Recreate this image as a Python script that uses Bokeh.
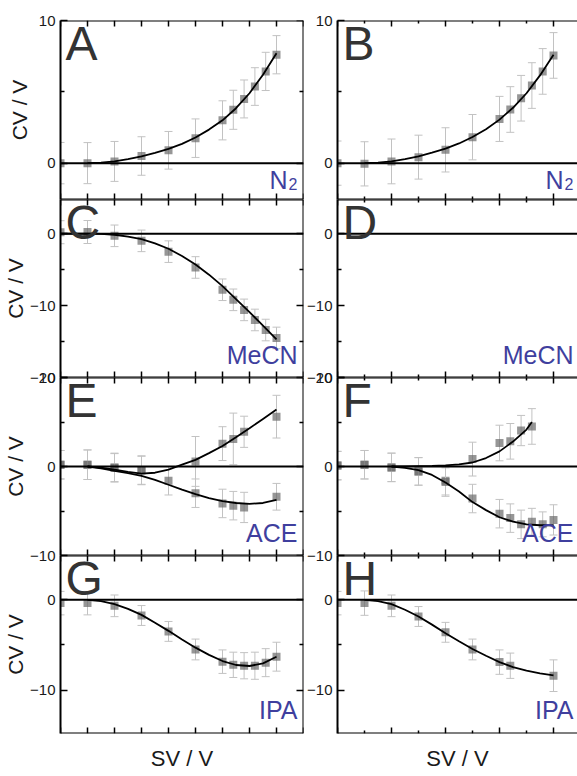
from bokeh.plotting import figure
from bokeh.models import (ColumnDataSource, Range1d, LinearAxis, FixedTicker,
                          Span, Label)
from bokeh.layouts import row, column
from bokeh.embed import file_html
from bokeh.resources import INLINE

# ---------------------------------------------------------------- data
# separation voltage steps (same for every gas)
sv = [0, 1, 2, 3, 4, 5, 6, 6.4, 6.8, 7.2, 7.6, 8]
fit_sv = [1, 1.5, 2, 2.5, 3, 3.5, 4, 4.5, 5, 5.5, 6, 6.5, 7, 7.5, 8]

# A: N2, left
cv_a = [0.0, 0.0, 0.12, 0.5, 0.9, 1.75, 3.0, 3.74, 4.5, 5.37, 6.43, 7.6]
err_a = [1.45, 1.44, 1.4, 1.35, 1.32, 1.35, 1.37, 1.37, 1.33, 1.32, 1.34, 1.34]
fit_a = [0, 0.04, 0.13, 0.28, 0.48, 0.72, 1.0, 1.35, 1.8, 2.35, 3.0, 3.85, 4.9, 6.2, 7.7]

# B: N2, right
cv_b = [0.0, -0.05, 0.12, 0.42, 0.93, 1.82, 3.1, 3.76, 4.55, 5.44, 6.43, 7.55]
err_b = [1.55, 1.55, 1.57, 1.54, 1.55, 1.59, 1.58, 1.6, 1.6, 1.6, 1.6, 1.6]
fit_b = [0, 0.04, 0.13, 0.28, 0.48, 0.73, 1.02, 1.38, 1.83, 2.38, 3.05, 3.88, 4.9, 6.15, 7.6]

# C: MeCN, left
cv_c = [0.2, 0.23, -0.3, -1.0, -2.5, -4.7, -7.8, -9.2, -10.6, -12.0, -13.4, -14.5]
err_c = [1.6, 1.6, 1.5, 1.5, 1.5, 1.5, 1.5, 1.5, 1.5, 1.5, 1.5, 1.5]
fit_c_sv = [0, 0.5, 1, 1.5, 2, 2.5, 3, 3.5, 4, 4.5, 5, 5.5, 6, 6.5, 7, 7.5, 8]
fit_c = [0, 0, 0, -0.03, -0.15, -0.4, -0.75, -1.35, -2.1, -3.1, -4.3, -5.7,
         -7.3, -9.1, -10.9, -12.8, -14.7]

# E: ACE, left (two branches)
sv_e_up = [0, 1, 2, 3, 5, 6, 6.4, 6.8, 8]
cv_e_up = [0.2, 0.2, -0.1, -0.4, 0.57, 2.57, 3.1, 3.9, 5.6]
err_e_up = [1.6, 1.66, 1.6, 1.6, 2.8, 1.9, 2.9, 1.75, 2.4]
fit_e_up = [0, -0.12, -0.35, -0.6, -0.8, -0.7, -0.35, 0.2, 0.75, 1.5, 2.3,
            3.3, 4.3, 5.35, 6.4]
sv_e_lo = [0, 1, 2, 3, 4, 5, 6, 6.4, 6.8, 8]
cv_e_lo = [0.2, 0.2, -0.15, -0.45, -1.6, -3.0, -4.15, -4.4, -4.6, -3.4]
err_e_lo = [1.6, 1.66, 1.6, 1.6, 1.6, 1.6, 1.6, 1.6, 1.7, 1.5]
fit_e_lo = [0, -0.2, -0.5, -0.75, -1.05, -1.5, -2.05, -2.6, -3.1, -3.55,
            -3.9, -4.1, -4.2, -4.1, -3.75]

# F: ACE, right (two branches)
sv_f_up = [0, 1, 2, 3, 4, 5, 6, 6.4, 6.8, 7.2]
cv_f_up = [0.1, 0.2, -0.1, -0.55, -1.6, 0.83, 2.64, 2.83, 4.04, 4.5]
err_f_up = [1.6, 1.6, 1.6, 1.55, 1.6, 1.9, 2.0, 2.0, 1.7, 2.0]
fit_f_up_sv = [2, 2.5, 3, 3.5, 4, 4.5, 5, 5.5, 6, 6.5, 7, 7.2]
fit_f_up = [0, 0.02, 0.05, 0.08, 0.12, 0.25, 0.45, 0.95, 1.7, 2.8, 4.15, 5.0]
sv_f_lo = [0, 1, 2, 3, 4, 5, 6, 6.4, 6.8, 7.2, 7.6, 8]
cv_f_lo = [0.1, 0.2, -0.1, -0.55, -1.75, -3.6, -5.3, -5.8, -6.5, -6.2, -6.5, -6.0]
err_f_lo = [1.6, 1.6, 1.6, 1.55, 1.6, 1.6, 1.6, 1.6, 1.6, 1.5, 1.4, 1.7]
fit_f_lo_sv = [2, 2.5, 3, 3.5, 4, 4.5, 5, 5.5, 6, 6.5, 7, 7.5, 8]
fit_f_lo = [0, -0.15, -0.4, -0.95, -1.8, -2.8, -4.0, -4.9, -5.7, -6.2, -6.5,
            -6.6, -6.6]

# G: IPA, left
cv_g = [-0.37, -0.37, -0.67, -1.74, -3.5, -5.5, -6.85, -7.2, -7.3, -7.3, -6.96, -6.3]
err_g = [1.3, 1.3, 1.2, 1.1, 1.1, 1.15, 1.3, 1.4, 1.45, 1.5, 1.55, 1.6]
fit_g = [0, -0.15, -0.48, -1.0, -1.67, -2.55, -3.44, -4.4, -5.3, -6.1, -6.78,
         -7.22, -7.33, -7.04, -6.3]

# H: IPA, right
sv_h = [0, 1, 2, 3, 4, 5, 6, 6.4, 8]
cv_h = [-0.37, -0.37, -0.67, -1.85, -3.6, -5.5, -6.9, -7.3, -8.4]
err_h = [1.3, 1.35, 1.2, 1.1, 1.1, 1.15, 1.35, 1.4, 1.75]
fit_h = [0, -0.15, -0.48, -1.1, -1.85, -2.75, -3.7, -4.6, -5.44, -6.2, -6.9,
         -7.45, -7.85, -8.15, -8.37]

# ---------------------------------------------------------------- style
FONT = "Liberation Sans"
ERR_COLOR = "#c2c2c2"
SQ_COLOR = "#6a6a6a"
GAS_COLOR = "#3f3f9e"
LETTER_COLOR = "#333333"
TICK_COLOR = "#1a1a1a"

LEFT_W, RIGHT_W = 243, 240
PX_PER_SV = 27.0
ROW_H = [179, 178, 178, 178]
Y_RANGES = [(-2.55, 10), (-20, 4.75), (-10, 10), (-14.8, 4.9)]
Y_MAJOR = [[0, 10], [-20, -10, 0], [-10, 0, 10], [-10, 0]]
Y_MINOR = [[5], [-15, -5], [-5, 5], [-5]]
# distance of the "CV / V" title from the tick labels, so it lines up in every row
CV_STANDOFF = [5, 0, 0, 0]
GAS = ["N2", "MeCN", "ACE", "IPA"]
GAS_BASE = [9, 12, 12, 13]
# alphabetic text sits ~0.41 em low in the svg output; lift it by that much
BASE_LIFT = 0.41


def make_panel(r, c, letter):
    left = c == 0
    fw = LEFT_W if left else RIGHT_W
    fh = ROW_H[r]
    xr = (0, fw / PX_PER_SV)
    yr = Y_RANGES[r]
    top_b = 20 if r == 0 else 10
    bot_b = 43 if r == 3 else 10
    p = figure(frame_width=fw, frame_height=fh,
               x_range=Range1d(*xr), y_range=Range1d(*yr),
               x_axis_type=None, y_axis_type=None,
               toolbar_location=None, output_backend="svg",
               min_border_left=60 if left else 33,
               min_border_right=1 if left else 0,
               min_border_top=top_b, min_border_bottom=bot_b,
               background_fill_color=None, border_fill_color=None,
               outline_line_color=None)
    if r > 0:
        p.margin = (-20, 0, 0, 0)

    tick_kw = dict(axis_line_color="black", axis_line_width=2,
                   major_tick_line_color="black", minor_tick_line_color="black",
                   major_tick_line_width=1.5, minor_tick_line_width=1.5,
                   major_tick_out=0, minor_tick_out=0,
                   major_tick_in=7, minor_tick_in=4)

    # y axes: labelled on the left, bare on the right
    yl = LinearAxis(ticker=FixedTicker(ticks=Y_MAJOR[r], minor_ticks=Y_MINOR[r]),
                    major_label_text_font=FONT,
                    major_label_text_font_size="15px",
                    major_label_text_color=TICK_COLOR,
                    major_label_standoff=5, **tick_kw)
    if left:
        yl.axis_label = "CV / V"
        yl.axis_label_standoff = CV_STANDOFF[r]
        yl.axis_label_text_font = FONT
        yl.axis_label_text_font_size = "21px"
        yl.axis_label_text_font_style = "normal"
        yl.axis_label_text_color = TICK_COLOR
    p.add_layout(yl, "left")
    if left:
        yr_ax = LinearAxis(ticker=FixedTicker(ticks=Y_MAJOR[r], minor_ticks=Y_MINOR[r]),
                           fixed_location=xr[1], major_label_text_color=None,
                           **tick_kw)
        p.add_layout(yr_ax, "right")

    # x axes: ticks only, on top and bottom
    if left:
        x_major, x_minor = list(range(0, 10)), []
    else:
        x_major, x_minor = [0, 2, 4, 6, 8], [1, 3, 5, 7]
    for loc, side in ((yr[1], "above"), (yr[0], "below")):
        ax = LinearAxis(ticker=FixedTicker(ticks=x_major, minor_ticks=x_minor),
                        fixed_location=loc, major_label_text_color=None,
                        **dict(tick_kw, major_tick_in=6, minor_tick_in=3))
        p.add_layout(ax, side)
    if r == 3:
        sl = LinearAxis(ticker=FixedTicker(ticks=[]), axis_line_color=None,
                        major_label_text_color=None,
                        axis_label="SV / V", axis_label_standoff=12,
                        axis_label_text_font=FONT,
                        axis_label_text_font_size="22px",
                        axis_label_text_font_style="normal",
                        axis_label_text_color=TICK_COLOR)
        p.add_layout(sl, "below")

    p.add_layout(Span(location=0, dimension="width", line_color="black",
                      line_width=2))

    # panel letter and gas name, placed in pixels from the frame corners
    ux = (xr[1] - xr[0]) / fw
    uy = (yr[1] - yr[0]) / fh
    p.add_layout(Label(x=xr[0] + 5 * ux, y=yr[1] - (43 - BASE_LIFT * 48) * uy,
                       text=letter, text_font=FONT, text_font_size="48px",
                       text_color=LETTER_COLOR, text_baseline="alphabetic",
                       text_align="left"))
    right_px = fw - (6 if left else 4)
    base = GAS_BASE[r]
    if GAS[r] == "N2":
        p.add_layout(Label(x=right_px * ux, y=yr[0] + (base + BASE_LIFT * 16) * uy,
                           text="2", text_font=FONT,
                           text_font_size="16px", text_color=GAS_COLOR,
                           text_baseline="alphabetic", text_align="right"))
        p.add_layout(Label(x=(right_px - 10) * ux,
                           y=yr[0] + (base + BASE_LIFT * 25) * uy, text="N",
                           text_font=FONT, text_font_size="25px",
                           text_color=GAS_COLOR, text_baseline="alphabetic",
                           text_align="right"))
    else:
        p.add_layout(Label(x=right_px * ux, y=yr[0] + (base + BASE_LIFT * 25) * uy,
                           text=GAS[r], text_font=FONT,
                           text_font_size="25px", text_color=GAS_COLOR,
                           text_baseline="alphabetic", text_align="right"))
    return p


def add_series(p, xs, ys, errs):
    src = ColumnDataSource(dict(x=xs, y=ys,
                                lo=[y - e for y, e in zip(ys, errs)],
                                hi=[y + e for y, e in zip(ys, errs)]))
    p.segment(x0="x", y0="lo", x1="x", y1="hi", source=src,
              line_color=ERR_COLOR, line_width=1)
    p.scatter(x="x", y="lo", marker="dash", size=8, source=src,
              line_color=ERR_COLOR, line_width=1)
    p.scatter(x="x", y="hi", marker="dash", size=8, source=src,
              line_color=ERR_COLOR, line_width=1)
    p.scatter(x="x", y="y", marker="square", size=8, source=src,
              fill_color=SQ_COLOR, fill_alpha=0.7, line_color=None)


def add_fit(p, fx, fy):
    p.line(fx, fy, line_color="black", line_width=1.8)


pa = make_panel(0, 0, "A")
pb = make_panel(0, 1, "B")
pc = make_panel(1, 0, "C")
pd = make_panel(1, 1, "D")
pe = make_panel(2, 0, "E")
pf = make_panel(2, 1, "F")
pg = make_panel(3, 0, "G")
ph = make_panel(3, 1, "H")

add_series(pa, sv, cv_a, err_a)
add_fit(pa, fit_sv, fit_a)
add_series(pb, sv, cv_b, err_b)
add_fit(pb, fit_sv, fit_b)
add_series(pc, sv, cv_c, err_c)
add_fit(pc, fit_c_sv, fit_c)

add_series(pe, sv_e_up, cv_e_up, err_e_up)
add_series(pe, sv_e_lo, cv_e_lo, err_e_lo)
add_fit(pe, fit_sv, fit_e_up)
add_fit(pe, fit_sv, fit_e_lo)

add_series(pf, sv_f_up, cv_f_up, err_f_up)
add_series(pf, sv_f_lo, cv_f_lo, err_f_lo)
add_fit(pf, fit_f_up_sv, fit_f_up)
add_fit(pf, fit_f_lo_sv, fit_f_lo)

add_series(pg, sv, cv_g, err_g)
add_fit(pg, fit_sv, fit_g)
add_series(ph, sv_h, cv_h, err_h)
add_fit(ph, fit_sv, fit_h)

layout = row(column(pa, pc, pe, pg), column(pb, pd, pf, ph))

with open("out.html", "w") as fh:
    fh.write(file_html(layout, INLINE))
